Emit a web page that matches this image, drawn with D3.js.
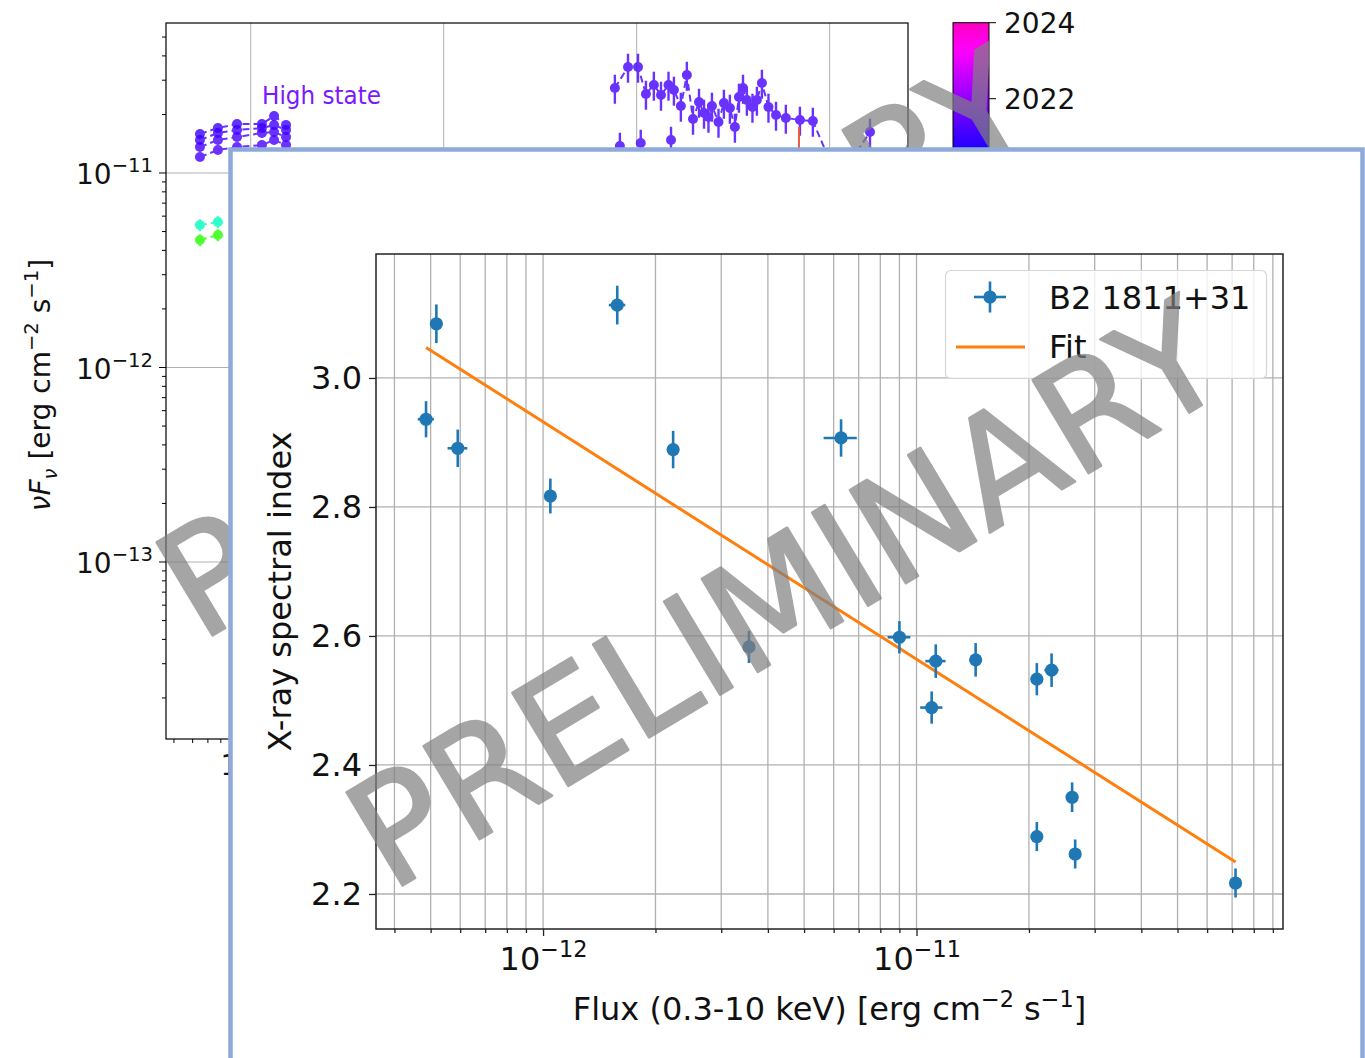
<!DOCTYPE html>
<html>
<head>
<meta charset="utf-8">
<script src="https://cdn.jsdelivr.net/npm/d3@7"></script>
<style>
  html, body { margin: 0; padding: 0; background: #fff; }
  svg { display: block; }
  text { font-family: "DejaVu Sans", sans-serif; }
</style>
</head>
<body>
<svg id="fig" width="1365" height="1058"></svg>
<script>
// ---------------- X-ray spectral index vs 0.3-10 keV flux ----------------
const flux        = [4.86e-13, 5.18e-13, 5.91e-13, 1.046e-12, 1.58e-12, 2.23e-12, 3.56e-12, 6.28e-12, 9.0e-12,
                     1.098e-11, 1.126e-11, 1.44e-11, 2.10e-11, 2.30e-11, 2.10e-11, 2.61e-11, 2.66e-11, 7.15e-11];
const fluxErr     = [0.024e-12, 0, 0.036e-12, 0, 0.08e-12, 0, 0, 0.64e-12, 0.63e-12,
                     0.075e-11, 0.07e-11, 0, 0, 0.1e-11, 0, 0, 0, 0];
const photonIndex = [2.936, 3.084, 2.891, 2.817, 3.113, 2.889, 2.583, 2.907, 2.598,
                     2.489, 2.561, 2.563, 2.533, 2.547, 2.289, 2.350, 2.262, 2.217];
const indexErr    = [0.028, 0.030, 0.029, 0.027, 0.030, 0.029, 0.025, 0.029, 0.025,
                     0.025, 0.026, 0.026, 0.025, 0.026, 0.0225, 0.023, 0.0225, 0.0225];
// linear fit: index = fitIntercept + fitSlope * log10(F / 1e-12)
const fitIntercept = 2.932;
const fitSlope = -0.368;
const sourceName = "B2 1811+31";
const fitName = "Fit";
const fluxTicks = [1e-12, 1e-11];
const fluxTickExp = ["−12", "−11"];
const indexTicks = [2.2, 2.4, 2.6, 2.8, 3.0];

// ---------------- multi-epoch SED (behind) ----------------
const uvotLogNu = [14.737, 14.830, 14.929, 15.058, 15.121, 15.183];
const highStateA = [1.586, 1.703, 1.786, 1.786, 1.964, 1.765];   // x 1e-11
const highStateB = [1.478, 1.606, 1.664, 1.703, 1.765, 1.664];
const highStateC = [1.360, 1.478, 1.531, 1.606, 1.625, 1.531];
const highStateD = [1.208, 1.313, 1.360, 1.393, 1.478, 1.393];
const highStateYears = [2021.0, 2021.05, 2021.1, 2021.15];
const lowStateLogNu = [14.737, 14.830];
const lowStateA = [0.540, 0.560];
const lowStateB = [0.452, 0.480];
const lowStateYears = [2016.6, 2014.0];
const xrtLogNu = [16.887, 16.955, 17.007, 17.048, 17.089, 17.126, 17.165, 17.193, 17.229, 17.260,
                  17.292, 17.323, 17.349, 17.372, 17.390, 17.424, 17.452, 17.483, 17.509, 17.530,
                  17.551, 17.571, 17.600, 17.623, 17.649, 17.683, 17.722, 17.773, 17.846, 17.913,
                  18.043, 18.209];
const xrtFlux  = [2.735, 3.508, 3.508, 2.548, 2.835, 2.518, 2.835, 2.672, 2.211, 3.190,
                  1.895, 2.317, 2.035, 1.941, 2.211, 1.829, 2.290, 2.159, 1.724, 2.459,
                  2.735, 2.373, 2.185, 2.373, 2.902, 2.185, 1.987, 1.918, 1.873, 1.851,
                  0.920, 1.625];            // x 1e-11
const xrtRelErr = 0.17;
const xrtYear = 2021.1;
const xrtLowLogNu = [16.913, 17.021, 17.178];
const xrtLowFlux = [1.377, 1.426, 1.478];   // x 1e-11
const limitLogNu = 17.841;
const limitFlux = [1.724, 0.30];            // x 1e-11
const colorbarYears = [2008, 2024];
const colorbarTicks = [2022, 2024];
const stateLabel = "High state";
const watermark = "PRELIMINARY";

// gist_rainbow colormap
const rainbow = d3.scaleLinear()
  .domain([0, 0.03, 0.215, 0.4, 0.586, 0.77, 0.954, 1])
  .range(["#ff0029", "#ff0000", "#ffff00", "#00ff00", "#00ffff", "#0000ff", "#ff00ff", "#ff00bf"])
  .interpolate(d3.interpolateRgb);
const yearT = d3.scaleLinear().domain(colorbarYears).range([0, 1]);
const yearColor = yr => rainbow(yearT(yr));

const svg = d3.select("#fig");
svg.append("rect").attr("width", 1365).attr("height", 1058).attr("fill", "#fff");

// helper: text made of plain / superscript / subscript pieces
function richText(sel, parts, fs, raise) {
  let shift = 0;
  parts.forEach(p => {
    const target = p.sup ? -raise : (p.sub ? raise * 0.55 : 0);
    const t = sel.append("tspan")
      .attr("font-size", p.sup || p.sub ? fs * 0.7 : fs)
      .attr("dy", target - shift)
      .text(p.t);
    if (p.italic) t.attr("font-style", "italic");
    shift = target;
  });
  return sel;
}

// ===================== SED panel =====================
const sed = svg.append("g");
const sb = { left: 166, top: 23, right: 908, bottom: 739 };
const xSed = d3.scaleLog().domain([10 ** 14.561, 10 ** 18.406]).range([sb.left, sb.right]);
const ySed = d3.scaleLog().domain([10 ** -13.910, 10 ** -10.2288]).range([sb.bottom, sb.top]);

// grid
[1e-13, 1e-12, 1e-11].forEach(v => sed.append("line")
  .attr("x1", sb.left).attr("x2", sb.right).attr("y1", ySed(v)).attr("y2", ySed(v))
  .attr("stroke", "#b0b0b0").attr("stroke-width", 1));
[1e15, 1e16, 1e17, 1e18].forEach(v => sed.append("line")
  .attr("x1", xSed(v)).attr("x2", xSed(v)).attr("y1", sb.top).attr("y2", sb.bottom)
  .attr("stroke", "#b0b0b0").attr("stroke-width", 1));

// y ticks
for (let e = -14; e <= -10; e++) {
  for (let k = 1; k <= 9; k++) {
    const v = k * 10 ** e;
    const yy = ySed(v);
    if (yy < sb.top - 0.5 || yy > sb.bottom + 0.5) continue;
    sed.append("line").attr("x1", sb.left).attr("x2", sb.left - (k === 1 ? 7 : 4))
      .attr("y1", yy).attr("y2", yy).attr("stroke", "#000").attr("stroke-width", 1);
    if (k === 1) {
      const t = sed.append("text").attr("x", 153).attr("y", yy + 11).attr("text-anchor", "end").attr("fill", "#111");
      richText(t, [{ t: "10" }, { t: "−" + (-e), sup: true }], 28, 12);
    }
  }
}
// x ticks
for (let e = 14; e <= 18; e++) {
  for (let k = 1; k <= 9; k++) {
    const v = k * 10 ** e;
    const xx = xSed(v);
    if (xx < sb.left - 0.5 || xx > sb.right + 0.5) continue;
    sed.append("line").attr("x1", xx).attr("x2", xx).attr("y1", sb.bottom).attr("y2", sb.bottom + (k === 1 ? 7 : 4))
      .attr("stroke", "#000").attr("stroke-width", 1);
    if (k === 1) {
      const t = sed.append("text").attr("x", xx).attr("y", 775).attr("text-anchor", "middle").attr("fill", "#111");
      richText(t, [{ t: "10" }, { t: String(e), sup: true }], 28, 12);
    }
  }
}
sed.append("rect").attr("x", sb.left).attr("y", sb.top).attr("width", sb.right - sb.left).attr("height", sb.bottom - sb.top)
  .attr("fill", "none").attr("stroke", "#000").attr("stroke-width", 1.2);

// y label
const sedYLabel = sed.append("text").attr("transform", "translate(50,385) rotate(-90)")
  .attr("text-anchor", "middle").attr("fill", "#111");
richText(sedYLabel, [{ t: "ν", italic: true }, { t: "F", italic: true }, { t: "ν", sub: true, italic: true },
  { t: " [erg cm" }, { t: "−2", sup: true }, { t: " s" }, { t: "−1", sup: true }, { t: "]" }], 28, 12);

// epochs (points + dashed connectors + error bars)
function drawEpoch(logNu, vals, color, relErr, dashed) {
  const pts = logNu.map((ln, i) => [xSed(10 ** ln), ySed(vals[i] * 1e-11), vals[i]]);
  const g = sed.append("g").attr("opacity", 0.8);
  if (dashed) g.append("path").attr("d", d3.line()(pts.map(p => [p[0], p[1]])))
    .attr("fill", "none").attr("stroke", color).attr("stroke-width", 2).attr("stroke-dasharray", "7,4");
  pts.forEach(p => {
    g.append("line").attr("x1", p[0]).attr("x2", p[0])
      .attr("y1", ySed(p[2] * (1 + relErr) * 1e-11)).attr("y2", ySed(p[2] * (1 - relErr) * 1e-11))
      .attr("stroke", color).attr("stroke-width", 2.4);
    g.append("circle").attr("cx", p[0]).attr("cy", p[1]).attr("r", 5).attr("fill", color);
  });
}
[highStateA, highStateB, highStateC, highStateD].forEach((v, i) =>
  drawEpoch(uvotLogNu, v, yearColor(highStateYears[i]), 0.05, true));
[lowStateA, lowStateB].forEach((v, i) =>
  drawEpoch(lowStateLogNu, v, yearColor(lowStateYears[i]), 0.07, true));
drawEpoch(xrtLowLogNu, xrtLowFlux, yearColor(xrtYear), xrtRelErr, false);
drawEpoch(xrtLogNu, xrtFlux, yearColor(xrtYear), xrtRelErr, true);
sed.append("line").attr("x1", xSed(10 ** limitLogNu)).attr("x2", xSed(10 ** limitLogNu))
  .attr("y1", ySed(limitFlux[0] * 1e-11)).attr("y2", ySed(limitFlux[1] * 1e-11))
  .attr("stroke", "#ee5a3c").attr("stroke-width", 2);

sed.append("text").attr("x", 262).attr("y", 104).attr("font-family", "Lato, 'Open Sans', sans-serif")
  .attr("font-size", 25).attr("textLength", 119).attr("lengthAdjust", "spacingAndGlyphs")
  .attr("fill", "#7a18ff").text(stateLabel);

// colorbar
const cbTop = 22.7, cbPxPerYear = 38;
const yCb = d3.scaleLinear().domain(colorbarYears)
  .range([cbTop + (colorbarYears[1] - colorbarYears[0]) * cbPxPerYear, cbTop]);
const grad = svg.append("defs").append("linearGradient").attr("id", "cbGrad")
  .attr("x1", 0).attr("y1", 1).attr("x2", 0).attr("y2", 0);
d3.range(0, 1.0001, 0.02).forEach(t => grad.append("stop").attr("offset", t).attr("stop-color", rainbow(t)));
sed.append("rect").attr("x", 953).attr("y", yCb(colorbarYears[1])).attr("width", 36)
  .attr("height", yCb(colorbarYears[0]) - yCb(colorbarYears[1]))
  .attr("fill", "url(#cbGrad)").attr("stroke", "#000").attr("stroke-width", 1);
colorbarTicks.forEach(yr => {
  sed.append("line").attr("x1", 989).attr("x2", 996).attr("y1", yCb(yr)).attr("y2", yCb(yr))
    .attr("stroke", "#000").attr("stroke-width", 1);
  sed.append("text").attr("x", 1004).attr("y", yCb(yr) + 10.5).attr("font-size", 28).attr("fill", "#111").text(yr);
});

// semi-transparent diagonal watermark
function drawWatermark(x0, y0) {
  svg.append("g").attr("opacity", 0.7)
    .append("text").attr("transform", `translate(${x0},${y0}) rotate(-31)`)
    .attr("font-family", "Lato, 'Open Sans', sans-serif").attr("font-size", 149)
    .attr("fill", "#808080").attr("stroke", "#808080").attr("stroke-width", 2.5)
    .attr("stroke-linejoin", "round").text(watermark);
}
drawWatermark(390 - 190, 893 - 250);

// ===================== inset panel =====================
svg.append("rect").attr("x", 230.5).attr("y", 149.5).attr("width", 1132).attr("height", 1000)
  .attr("fill", "#fff").attr("stroke", "#8eaadb").attr("stroke-width", 4.5);

const m = { left: 376, top: 254, right: 1283, bottom: 929 };
const x = d3.scaleLog().domain([3.57e-13, 9.58e-11]).range([m.left, m.right]);
const y = d3.scaleLinear().domain([2.1457, 3.1922]).range([m.bottom, m.top]);
const g = svg.append("g");

// minor + major flux ticks
const fluxAllTicks = [];
for (let e = -13; e <= -11; e++) for (let k = 1; k <= 9; k++) {
  const v = k * 10 ** e;
  if (v >= x.domain()[0] && v <= x.domain()[1]) fluxAllTicks.push({ v, major: k === 1 });
}
// grid
fluxAllTicks.forEach(d => g.append("line").attr("x1", x(d.v)).attr("x2", x(d.v)).attr("y1", m.top).attr("y2", m.bottom)
  .attr("stroke", "#b0b0b0").attr("stroke-width", 1.3));
indexTicks.forEach(v => g.append("line").attr("x1", m.left).attr("x2", m.right).attr("y1", y(v)).attr("y2", y(v))
  .attr("stroke", "#b0b0b0").attr("stroke-width", 1.3));

// axes via d3
const xAxisMinor = d3.axisBottom(x).tickValues(fluxAllTicks.filter(d => !d.major).map(d => d.v))
  .tickSize(4).tickFormat("");
const xAxisMajor = d3.axisBottom(x).tickValues(fluxTicks).tickSize(7).tickPadding(10).tickFormat("");
const yAxis = d3.axisLeft(y).tickValues(indexTicks).tickSize(7).tickPadding(7).tickFormat(d3.format(".1f"));
const gxm = g.append("g").attr("transform", `translate(0,${m.bottom})`).call(xAxisMinor);
const gxM = g.append("g").attr("transform", `translate(0,${m.bottom})`).call(xAxisMajor);
const gy = g.append("g").attr("transform", `translate(${m.left},0)`).call(yAxis);
[gxm, gxM, gy].forEach(a => {
  a.select(".domain").remove();
  a.selectAll(".tick line").attr("stroke", "#222").attr("stroke-width", 1.3);
});
gy.selectAll(".tick text").attr("font-size", 32).attr("font-family", "DejaVu Sans, sans-serif").attr("fill", "#111");
gxM.selectAll(".tick text").each(function (d, i) {
  const t = d3.select(this).attr("font-family", "DejaVu Sans, sans-serif").attr("fill", "#111").attr("dy", null)
    .attr("y", 41).text(null);
  richText(t, [{ t: "10" }, { t: fluxTickExp[i], sup: true }], 32, 13);
});

// frame
g.append("rect").attr("x", m.left).attr("y", m.top).attr("width", m.right - m.left).attr("height", m.bottom - m.top)
  .attr("fill", "none").attr("stroke", "#222").attr("stroke-width", 1.5);

// axis titles
g.append("text").attr("transform", `translate(291,${(m.top + m.bottom) / 2}) rotate(-90)`)
  .attr("text-anchor", "middle").attr("font-size", 32).attr("fill", "#111").text("X-ray spectral index");
const xt = g.append("text").attr("x", (m.left + m.right) / 2).attr("y", 1020).attr("text-anchor", "middle").attr("fill", "#111");
richText(xt, [{ t: "Flux (0.3-10 keV) [erg cm" }, { t: "−2", sup: true }, { t: " s" }, { t: "−1", sup: true }, { t: "]" }], 32, 13);

// fit line over the data range
const fitX = d3.extent(flux);
const fitLine = d3.line().x(d => x(d)).y(d => y(fitIntercept + fitSlope * Math.log10(d / 1e-12)));
g.append("path").attr("d", fitLine(fitX)).attr("fill", "none").attr("stroke", "#ff7f0e").attr("stroke-width", 3);

// data with error bars
const blue = "#1f77b4";
flux.forEach((f, i) => {
  const px = x(f), py = y(photonIndex[i]);
  g.append("line").attr("x1", px).attr("x2", px).attr("y1", y(photonIndex[i] - indexErr[i])).attr("y2", y(photonIndex[i] + indexErr[i]))
    .attr("stroke", blue).attr("stroke-width", 2.6);
  if (fluxErr[i] > 0) g.append("line").attr("x1", x(f - fluxErr[i])).attr("x2", x(f + fluxErr[i])).attr("y1", py).attr("y2", py)
    .attr("stroke", blue).attr("stroke-width", 2.6);
  g.append("circle").attr("cx", px).attr("cy", py).attr("r", 6.6).attr("fill", blue);
});

// legend
const lg = g.append("g");
lg.append("rect").attr("x", 945.5).attr("y", 270.5).attr("width", 321).attr("height", 108).attr("rx", 5)
  .attr("fill", "#fff").attr("fill-opacity", 0.8).attr("stroke", "#d6d6d6").attr("stroke-width", 1.2);
lg.append("line").attr("x1", 974).attr("x2", 1006).attr("y1", 297).attr("y2", 297).attr("stroke", blue).attr("stroke-width", 2.6);
lg.append("line").attr("x1", 990).attr("x2", 990).attr("y1", 281.5).attr("y2", 312.5).attr("stroke", blue).attr("stroke-width", 2.6);
lg.append("circle").attr("cx", 990).attr("cy", 297).attr("r", 6.6).attr("fill", blue);
lg.append("text").attr("x", 1049).attr("y", 308.5).attr("font-size", 32).attr("fill", "#111").text(sourceName);
lg.append("line").attr("x1", 956).attr("x2", 1025).attr("y1", 347).attr("y2", 347).attr("stroke", "#ff7f0e").attr("stroke-width", 3);
lg.append("text").attr("x", 1049).attr("y", 357.5).attr("font-size", 32).attr("fill", "#111").text(fitName);

// watermark over the inset
drawWatermark(390, 893);
</script>
</body>
</html>
